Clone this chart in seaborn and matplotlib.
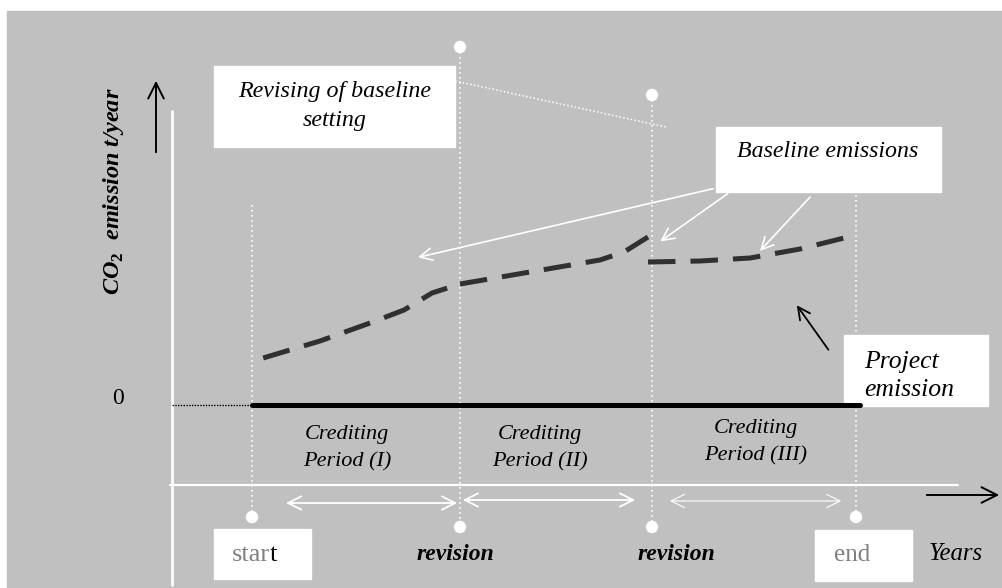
import numpy as np
import pandas as pd
import matplotlib.pyplot as plt
import seaborn as sns
from matplotlib.patches import Rectangle

# Plain white theme, serif (Times-like) text
sns.set_theme(style='white')
plt.rcParams['font.family'] = ['Liberation Serif', 'DejaVu Serif']
plt.rcParams['text.color'] = 'black'
plt.rcParams['mathtext.fontset'] = 'custom'
plt.rcParams['mathtext.rm'] = 'Liberation Serif:bold:italic'
plt.rcParams['mathtext.bf'] = 'Liberation Serif:bold'

# Events on the time axis (years from project start)
event_names = ['start', 'revision', 'revision', 'end']
event_years = [0, 5.2, 10, 15.1]
event_tops = [20, 35.8, 31, 21.5]
event_bottoms = [-11.2, -12.2, -12.2, -11.2]

# Baseline emissions per crediting period (t/year, arbitrary units)
period_labels = ['I', 'II', 'III']
seg1_years = [0.28, 1.7, 2.95, 3.8, 4.5, 5.2]
seg1_values = [4.7, 6.4, 8.2, 9.5, 11.2, 12.1]
seg2_years = [5.2, 6.95, 8.7, 9.3, 9.9]
seg2_values = [12.1, 13.3, 14.5, 15.3, 16.8]
seg3_years = [9.9, 11.2, 12.45, 13.7, 14.9]
seg3_values = [14.3, 14.4, 14.7, 15.6, 16.8]

# Project emission stays at zero
project_years = [0, 15.2]
project_values = [0, 0]

baseline = pd.concat([
    pd.DataFrame({'year': seg1_years, 'emission': seg1_values, 'period': 'I'}),
    pd.DataFrame({'year': seg2_years, 'emission': seg2_values, 'period': 'II'}),
    pd.DataFrame({'year': seg3_years, 'emission': seg3_values, 'period': 'III'}),
])

fig = plt.figure(figsize=(10.02, 5.88), dpi=100, facecolor='white')
fig.patches.append(Rectangle((7 / 1002, 0), 1, 577 / 588, transform=fig.transFigure,
                             color='#c0c0c0', zorder=-10))
ax = fig.add_axes([0, 0, 1, 1])
ax.set_xlim(-6.3, 18.75)
ax.set_ylim(-18.3, 40.5)
ax.axis('off')

W = 'white'
# white axis lines
ax.plot([-2, -2], [-18, 29.4], color=W, lw=2, zorder=2)
ax.plot([-2.05, 17.65], [-8, -8], color=W, lw=1.6, zorder=2)

# black direction arrows
ax.annotate('', xy=(-2.4, 32.7), xytext=(-2.4, 25),
            arrowprops=dict(arrowstyle='->', color='black', lw=1.4, mutation_scale=28))
ax.annotate('', xy=(18.75, -9), xytext=(16.8, -9),
            arrowprops=dict(arrowstyle='->', color='black', lw=1.4, mutation_scale=28))

ax.text(-3.35, 0.7, '0', fontsize=17, ha='center', va='center')
ax.text(-3.45, 21.4, r'CO$_\mathbf{2}$  emission t/year', fontsize=17.5, rotation=90,
        ha='center', va='center', fontweight='bold', fontstyle='italic')

# vertical event lines with dots
for yr, top, bot in zip(event_years, event_tops, event_bottoms):
    ax.plot([yr, yr], [top, bot], color=W, lw=1.2, ls=(0, (1, 2)), zorder=2)
sns.scatterplot(x=event_years, y=event_bottoms, color=W, s=80, edgecolor='none',
                ax=ax, zorder=4)
sns.scatterplot(x=event_years[1:3], y=event_tops[1:3], color=W, s=80, edgecolor='none',
                ax=ax, zorder=4)

# zero line
ax.plot([-2, 0], [0, 0], color='black', lw=1, ls=(0, (1, 1)), zorder=3)
sns.lineplot(x=project_years, y=project_values, color='black', lw=3.6, ax=ax, zorder=6)

# baseline emissions, dashed, one line per crediting period
sns.lineplot(data=baseline, x='year', y='emission', units='period', estimator=None,
             color='#303030', lw=3.6, sort=False, ax=ax, zorder=5)
for line in ax.lines[-3:]:
    line.set_dashes((5.5, 3))

# Revising box
ax.add_patch(Rectangle((-0.95, 25.8), 6.03, 8.1, color=W, zorder=3))
ax.text(2.07, 29.9, 'Revising of baseline\nsetting', fontsize=17.3, fontstyle='italic',
        ha='center', va='center', linespacing=1.45, zorder=4)
ax.plot([5.08, 10.35], [32.4, 27.8], color=W, lw=1.1, ls=(0, (1, 1.5)), zorder=2)

# Baseline emissions box and arrows
ax.add_patch(Rectangle((11.6, 21.3), 5.63, 6.5, color=W, zorder=3))
ax.text(14.4, 25.3, 'Baseline emissions', fontsize=17.2, fontstyle='italic',
        ha='center', va='center', zorder=4)
arrow_w = dict(arrowstyle='->', color=W, lw=1.2, mutation_scale=22)
ax.annotate('', xy=(4.08, 14.7), xytext=(11.6, 21.7), arrowprops=arrow_w, zorder=3)
ax.annotate('', xy=(10.15, 16.2), xytext=(11.95, 21.3), arrowprops=arrow_w, zorder=3)
ax.annotate('', xy=(12.65, 15.2), xytext=(14.0, 21.0), arrowprops=arrow_w, zorder=3)

# Project emission box and arrow
ax.annotate('', xy=(13.58, 10.2), xytext=(14.45, 5.3),
            arrowprops=dict(arrowstyle='->', color='black', lw=1.3, mutation_scale=22))
ax.add_patch(Rectangle((14.8, -0.1), 3.6, 7.1, color=W, zorder=3))
ax.text(15.3, 2.9, 'Project\nemission', fontsize=18.5, fontstyle='italic',
        ha='left', va='center', linespacing=1.4, zorder=4)

# Crediting period labels
credit_x = [2.38, 7.2, 12.6]
credit_y = [-4.3, -4.3, -3.7]
for cx, cy, lab in zip(credit_x, credit_y, period_labels):
    ax.text(cx, cy, f'Crediting\nPeriod ({lab})', fontsize=16, fontstyle='italic',
            ha='center', va='center', linespacing=1.55)

# double arrows for crediting periods
arr_d = dict(arrowstyle='<->', color=W, lw=1.3, mutation_scale=24)
ax.annotate('', xy=(0.78, -9.8), xytext=(event_years[1], -9.8), arrowprops=arr_d)
ax.annotate('', xy=(event_years[1], -9.5), xytext=(9.65, -9.5), arrowprops=arr_d)
ax.annotate('', xy=(10.38, -9.6), xytext=(14.8, -9.6),
            arrowprops=dict(arrowstyle='<->', color=W, lw=0.8, mutation_scale=24))

# event name labels
ax.add_patch(Rectangle((-0.95, -17.4), 2.43, 5.0, color=W, zorder=3))
ax.text(0.45, -15, 'star', fontsize=19, color='#808080', ha='right', va='center', zorder=4)
ax.text(0.45, -15, 't', fontsize=19, color='black', ha='left', va='center', zorder=4)
ax.add_patch(Rectangle((14.08, -17.6), 2.42, 5.1, color=W, zorder=3))
ax.text(15.0, -15, event_names[3], fontsize=18, color='#808080', ha='center', va='center',
        zorder=4)
ax.text(5.08, -15, event_names[1], fontsize=17, fontweight='bold', fontstyle='italic',
        ha='center', va='center')
ax.text(10.6, -15, event_names[2], fontsize=17, fontweight='bold', fontstyle='italic',
        ha='center', va='center')
ax.text(17.6, -14.9, 'Years', fontsize=17.8, fontstyle='italic', ha='center', va='center')

fig.savefig('out.png', dpi=100, facecolor='white')
